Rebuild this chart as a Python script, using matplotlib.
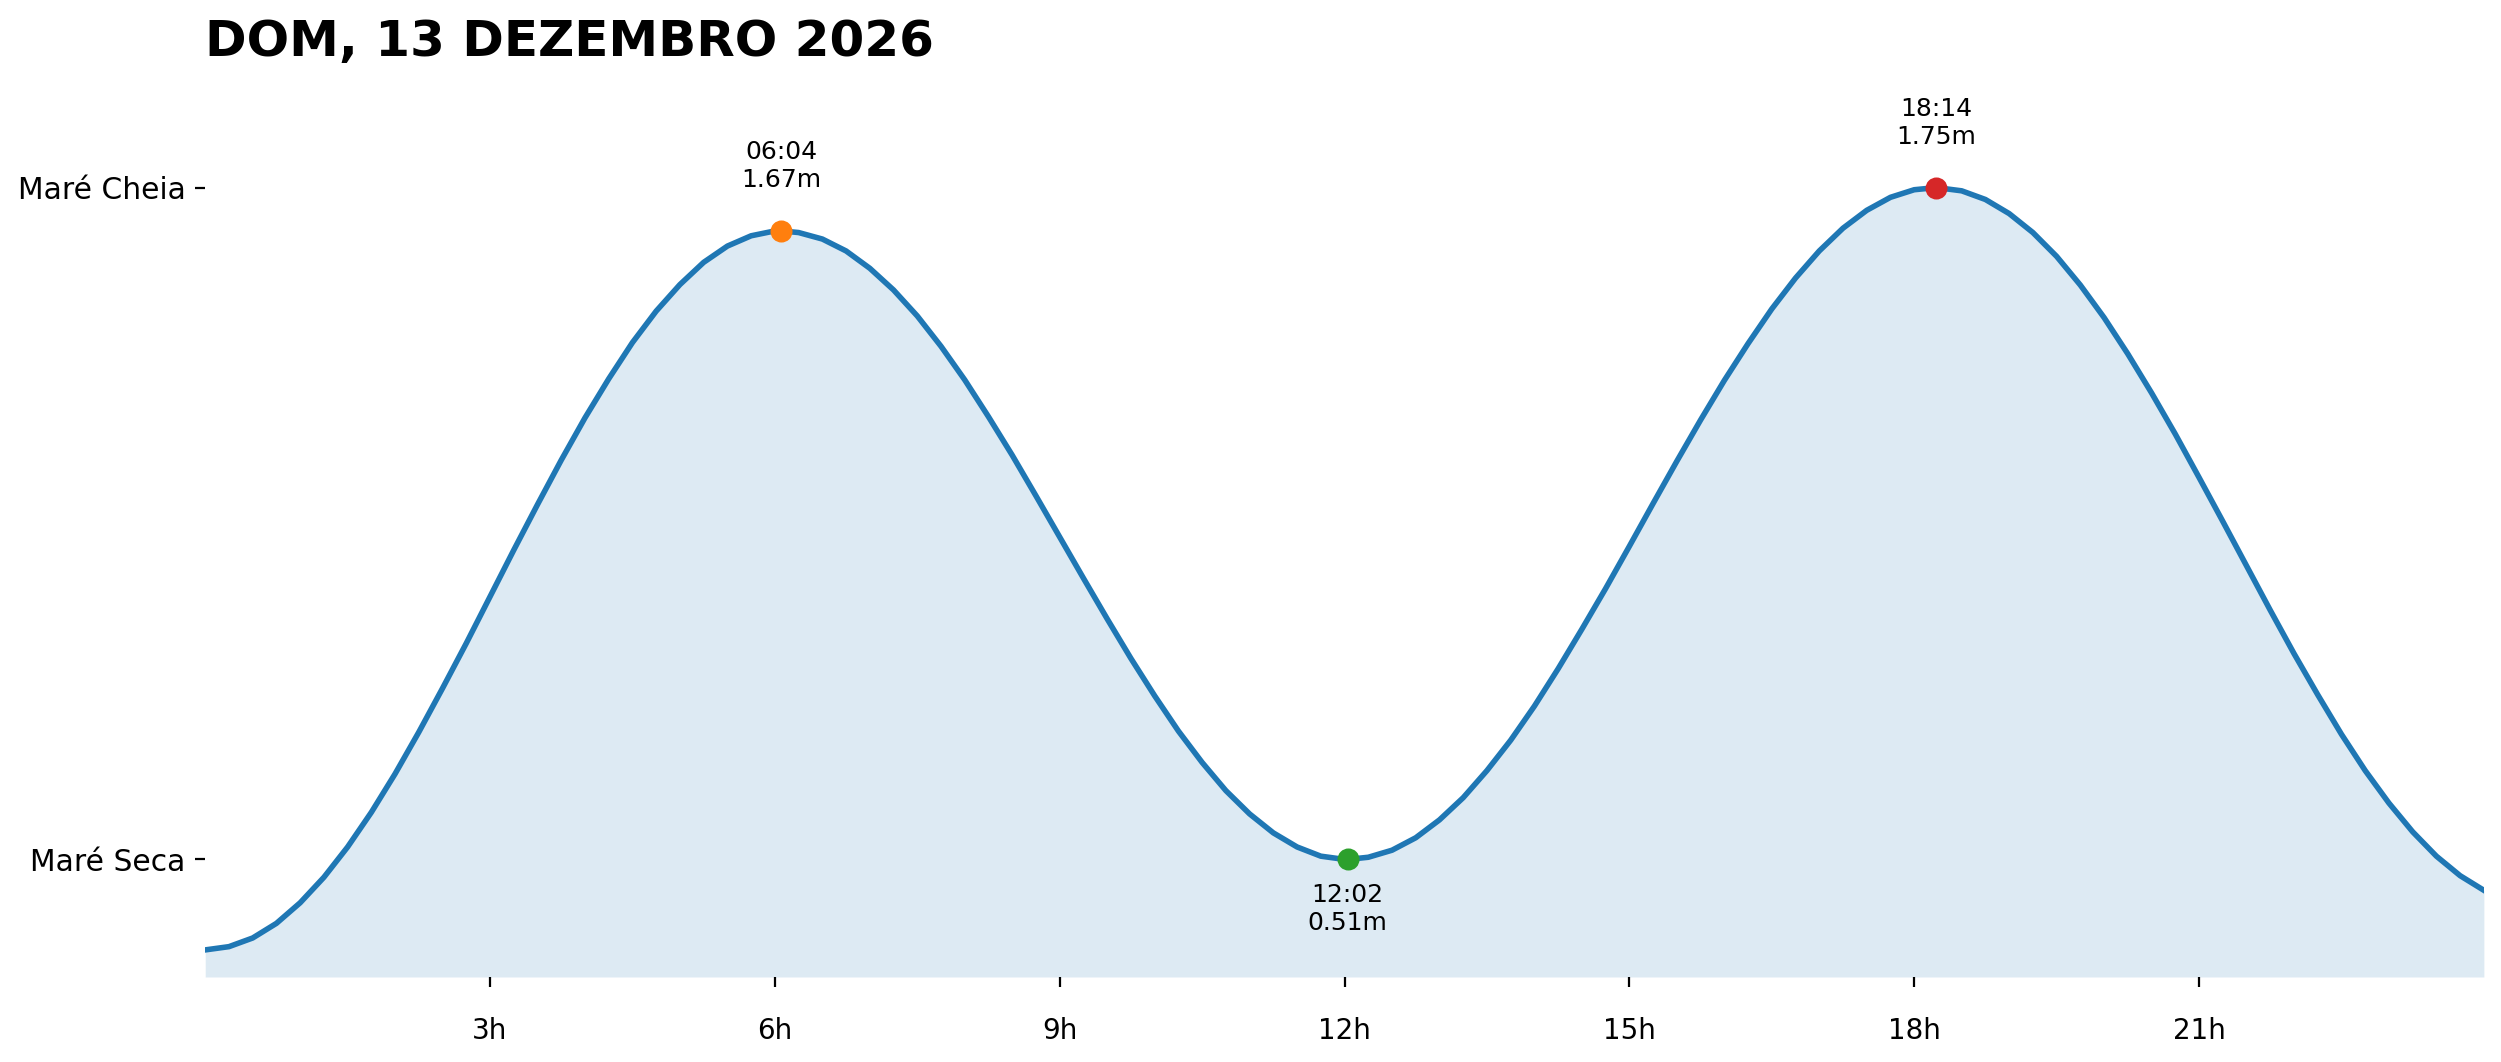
import matplotlib
matplotlib.use("Agg")
import matplotlib.pyplot as plt

# tide extremes for the day
extreme_times = ["06:04", "12:02", "18:14"]
extreme_levels = [1.67, 0.51, 1.75]
extreme_kinds = ["high", "low", "high"]
extreme_colors = ["#ff7f0e", "#2ca02c", "#d62728"]

# tide curve, every 15 min plus the extremes (hours, metres)
curve_hours = [0.0, 0.25, 0.5, 0.75, 1.0, 1.25, 1.5, 1.75, 2.0, 2.25, 2.5, 2.75,
               3.0, 3.25, 3.5, 3.75, 4.0, 4.25, 4.5, 4.75, 5.0, 5.25, 5.5, 5.75,
               6.0, 6.0667, 6.25, 6.5, 6.75, 7.0, 7.25, 7.5, 7.75, 8.0, 8.25, 8.5, 8.75,
               9.0, 9.25, 9.5, 9.75, 10.0, 10.25, 10.5, 10.75, 11.0, 11.25, 11.5, 11.75,
               12.0, 12.0333, 12.25, 12.5, 12.75, 13.0, 13.25, 13.5, 13.75, 14.0, 14.25, 14.5, 14.75,
               15.0, 15.25, 15.5, 15.75, 16.0, 16.25, 16.5, 16.75, 17.0, 17.25, 17.5, 17.75,
               18.0, 18.2333, 18.5, 18.75, 19.0, 19.25, 19.5, 19.75, 20.0, 20.25, 20.5, 20.75,
               21.0, 21.25, 21.5, 21.75, 22.0, 22.25, 22.5, 22.75, 23.0, 23.25, 23.5, 23.75, 24.0]
curve_levels = [0.343, 0.349, 0.365, 0.392, 0.430, 0.477, 0.533, 0.597, 0.668, 0.745, 0.826, 0.909,
                0.995, 1.081, 1.165, 1.247, 1.325, 1.397, 1.464, 1.522, 1.571, 1.612, 1.642, 1.661,
                1.670, 1.670, 1.667, 1.655, 1.633, 1.601, 1.561, 1.513, 1.457, 1.395, 1.327, 1.256, 1.181,
                1.105, 1.029, 0.954, 0.881, 0.812, 0.747, 0.689, 0.637, 0.594, 0.559, 0.533, 0.516,
                0.510, 0.510, 0.514, 0.527, 0.550, 0.583, 0.624, 0.674, 0.730, 0.793, 0.862, 0.935, 1.010,
                1.088, 1.167, 1.245, 1.321, 1.394, 1.462, 1.526, 1.583, 1.633, 1.675, 1.708, 1.732,
                1.746, 1.750, 1.744, 1.728, 1.702, 1.667, 1.623, 1.570, 1.510, 1.443, 1.371, 1.295,
                1.215, 1.134, 1.052, 0.970, 0.890, 0.814, 0.741, 0.674, 0.614, 0.561, 0.516, 0.480, 0.453]

tick_hours = [3, 6, 9, 12, 15, 18, 21]
tick_labels = ["3h", "6h", "9h", "12h", "15h", "18h", "21h"]
title = "DOM, 13 DEZEMBRO 2026"

y_bottom, y_top = 0.293, 1.962

fig = plt.figure(figsize=(12.505, 5.31), dpi=200)
ax = fig.add_axes([0.08205, 0.08004, 0.9111, 0.8515])

ax.fill_between(curve_hours, curve_levels, y_bottom, color="#1f77b4", alpha=0.15, linewidth=0)
ax.plot(curve_hours, curve_levels, color="#1f77b4", linewidth=2, solid_joinstyle="round")

for t, lvl, kind, col in zip(extreme_times, extreme_levels, extreme_kinds, extreme_colors):
    hh, mm = t.split(":")
    x = int(hh) + int(mm) / 60
    ax.scatter([x], [lvl], s=48, color=col, zorder=5)
    if kind == "high":
        ax.annotate(f"{t}\n{lvl:.2f}m", (x, lvl), xytext=(0, 14), textcoords="offset points",
                    ha="center", va="bottom", fontsize=9)
    else:
        ax.annotate(f"{t}\n{lvl:.2f}m", (x, lvl), xytext=(0, -8.5), textcoords="offset points",
                    ha="center", va="top", fontsize=9)

ax.set_xlim(0, 24)
ax.set_ylim(y_bottom, y_top)
ax.set_xticks(tick_hours)
ax.set_xticklabels(tick_labels)
ax.set_yticks([min(extreme_levels), max(extreme_levels)])
ax.set_yticklabels(["Maré Seca", "Maré Cheia"])
ax.tick_params(axis="x", pad=11)
ax.tick_params(axis="y", labelsize=10.7)
for s in ax.spines.values():
    s.set_visible(False)

ax.set_title(title, loc="left", fontsize=18, fontweight="bold")

fig.savefig("out.png", dpi=200)
